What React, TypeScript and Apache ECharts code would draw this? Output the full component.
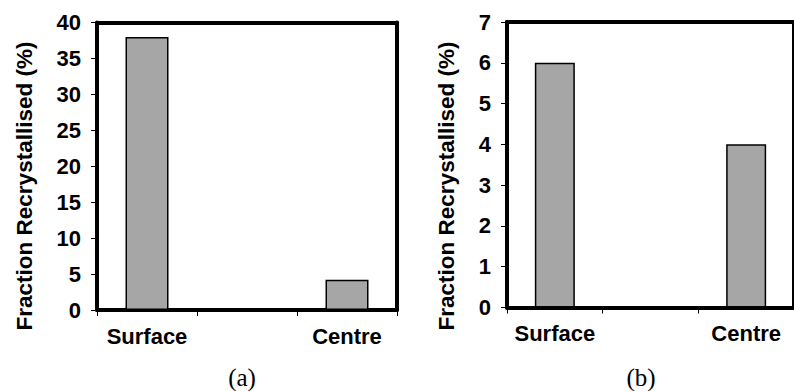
import React, { useEffect, useRef } from "react";
import * as echarts from "echarts";

const categories = ["Surface", "", "Centre"];
const valuesA = [38, null, 4.2];
const valuesB = [6, null, 4];
const yAxisTitle = "Fraction Recrystallised (%)";
const panelLabels = ["(a)", "(b)"];

const FONT = "'Liberation Sans', Arial, sans-serif";
const BAR = "#a6a6a6";
const FRAME_W = 4;

export default function App() {
  const ref = useRef<HTMLDivElement>(null);
  useEffect(() => {
    const chart = echarts.init(ref.current!, null, { renderer: "svg" });
    const frameLine = { show: true, onZero: false, lineStyle: { color: "#000", width: FRAME_W } };
    const xAxisMain = (gridIndex: number) => ({
      type: "category" as const,
      gridIndex,
      data: categories,
      boundaryGap: true,
      position: "bottom" as const,
      axisLine: frameLine,
      axisTick: { show: true, length: 6, lineStyle: { color: "#000", width: 1 } },
      axisLabel: {
        interval: 0,
        margin: 15,
        color: "#000",
        fontFamily: FONT,
        fontWeight: "bold",
        fontSize: 22,
      },
      splitLine: { show: false },
    });
    const xAxisTop = (gridIndex: number) => ({
      type: "category" as const,
      gridIndex,
      data: categories,
      position: "top" as const,
      axisLine: frameLine,
      axisTick: { show: false },
      axisLabel: { show: false },
      splitLine: { show: false },
    });
    const yAxisMain = (gridIndex: number, max: number, interval: number) => ({
      type: "value" as const,
      gridIndex,
      min: 0,
      max,
      interval,
      position: "left" as const,
      axisLine: frameLine,
      axisTick: { show: true, length: 6, lineStyle: { color: "#000", width: 1 } },
      axisLabel: {
        margin: 16,
        color: "#000",
        fontFamily: FONT,
        fontWeight: "bold",
        fontSize: 22,
      },
      splitLine: { show: false },
    });
    const yAxisRight = (gridIndex: number, max: number, interval: number) => ({
      type: "value" as const,
      gridIndex,
      min: 0,
      max,
      interval,
      position: "right" as const,
      axisLine: frameLine,
      axisTick: { show: false },
      axisLabel: { show: false },
      splitLine: { show: false },
    });
    const titleText = (x: number) => ({
      type: "text",
      x,
      y: 186,
      rotation: Math.PI / 2,
      style: {
        text: yAxisTitle,
        fontFamily: FONT,
        fontWeight: "bold",
        fontSize: 22.5,
        fill: "#000",
        textAlign: "center",
        textVerticalAlign: "middle",
      },
    });
    const panelText = (x: number, text: string) => ({
      type: "text",
      x,
      y: 377,
      style: {
        text,
        fontFamily: "'Liberation Serif', 'Times New Roman', serif",
        fontSize: 25,
        fill: "#000",
        textAlign: "center",
        textVerticalAlign: "middle",
      },
    });
    chart.setOption({
      animation: false,
      backgroundColor: "#fff",
      grid: [
        { left: 97, top: 22.5, width: 300, height: 287.5 },
        { left: 507, top: 22, width: 295.5, height: 285.5 },
      ],
      xAxis: [xAxisMain(0), xAxisMain(1), xAxisTop(0), xAxisTop(1)],
      yAxis: [
        yAxisMain(0, 40, 5),
        yAxisMain(1, 7, 1),
        yAxisRight(0, 40, 5),
        yAxisRight(1, 7, 1),
      ],
      series: [
        {
          type: "bar",
          xAxisIndex: 0,
          yAxisIndex: 0,
          data: valuesA,
          barWidth: 43,
          itemStyle: { color: BAR, borderColor: "#000", borderWidth: 1.5 },
        },
        {
          type: "bar",
          xAxisIndex: 1,
          yAxisIndex: 1,
          data: valuesB,
          barWidth: 40,
          itemStyle: { color: BAR, borderColor: "#000", borderWidth: 1.5 },
        },
      ],
      graphic: [
        titleText(24),
        titleText(446),
        panelText(242, panelLabels[0]),
        panelText(641, panelLabels[1]),
      ],
    });
    return () => chart.dispose();
  }, []);
  return (
    <div
      ref={ref}
      style={{ position: "fixed", left: 0, top: 0, width: 794, height: 391 }}
    />
  );
}
